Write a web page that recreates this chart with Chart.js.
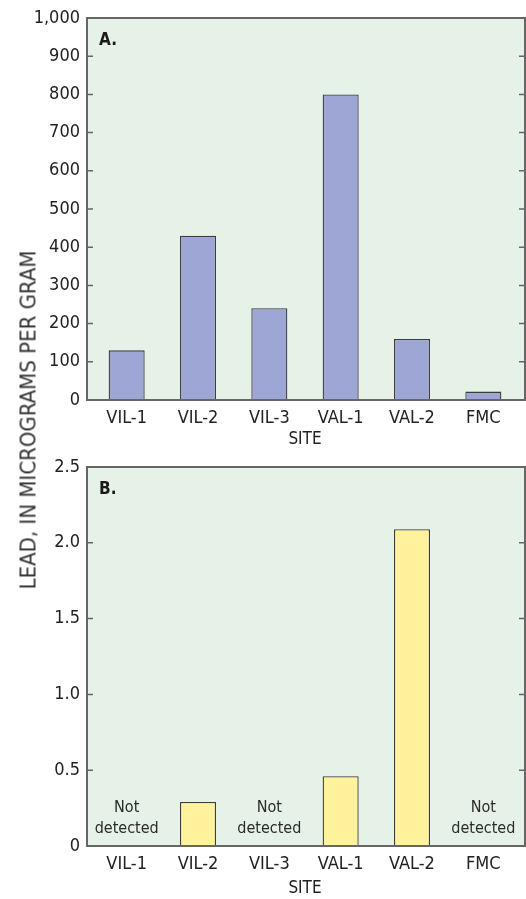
<!DOCTYPE html>
<html>
<head>
<meta charset="utf-8">
<script src="https://cdn.jsdelivr.net/npm/chart.js@4.4.1/dist/chart.umd.min.js"></script>
<style>
    html, body { margin: 0; padding: 0; background: #fff; }
    #wrap { position: relative; width: 526px; height: 899px; overflow: hidden; }
    #chartA { position: absolute; left: 0; top: 0; }
    #chartB { position: absolute; left: 0; top: 450px; }
    #yTitle {
        position: absolute; left: 28px; top: 420px;
        transform: translate(-50%, -50%) rotate(-90deg);
        white-space: nowrap;
        font-family: 'Liberation Sans Narrow', 'DejaVu Sans Condensed', sans-serif;
        font-size: 22px; color: #333;
    }
</style>
</head>
<body>
<div id="wrap">
    <canvas id="chartA" width="526" height="450"></canvas>
    <canvas id="chartB" width="526" height="449"></canvas>
    <div id="yTitle">LEAD, IN MICROGRAMS PER GRAM</div>
</div>
<script>
// ==================== Data ====================
const sites = ['VIL-1', 'VIL-2', 'VIL-3', 'VAL-1', 'VAL-2', 'FMC'];
const leadSediment = [130, 430, 240, 800, 160, 22];      // panel A
const leadWater = [null, 0.29, null, 0.46, 2.09, null];  // panel B, null = not detected
const notDetectedText = ['Not', 'detected'];

const FONT = "'Liberation Sans Narrow', 'DejaVu Sans Condensed', sans-serif";
const PLOT_BG = '#e6f1e7';
const FRAME = '#666666';
// frame sits a little outside the category area
const FRAME_LEFT = 4;
const FRAME_RIGHT = 6;

// ==================== Plugins ====================
// plot background, frame and inward tick marks on both sides
const framePlugin = {
    id: 'frame',
    beforeDatasetsDraw(chart) {
        const { ctx, chartArea: a } = chart;
        ctx.save();
        ctx.fillStyle = PLOT_BG;
        ctx.fillRect(a.left - FRAME_LEFT, a.top, a.right - a.left + FRAME_LEFT + FRAME_RIGHT, a.bottom - a.top);
        ctx.restore();
    },
    afterDatasetsDraw(chart) {
        const { ctx, chartArea: a } = chart;
        const y = chart.scales.y;
        const l = a.left - FRAME_LEFT;
        const r = a.right + FRAME_RIGHT;
        ctx.save();
        ctx.strokeStyle = FRAME;
        ctx.lineWidth = 1.5;
        y.ticks.forEach(t => {
            const py = y.getPixelForValue(t.value);
            if (py <= a.top + 1 || py >= a.bottom - 1) return;
            ctx.beginPath();
            ctx.moveTo(l, py);
            ctx.lineTo(l + 6, py);
            ctx.moveTo(r, py);
            ctx.lineTo(r - 6, py);
            ctx.stroke();
        });
        ctx.lineWidth = 2;
        ctx.strokeRect(l, a.top, r - l, a.bottom - a.top);
        // panel letter
        ctx.fillStyle = '#1a1a1a';
        ctx.font = 'bold 17px ' + FONT;
        ctx.textBaseline = 'middle';
        ctx.fillText(chart.options.plugins.frame.letter, l + 12, a.top + 23);
        ctx.restore();
    }
};

// "Not detected" labels for missing values
const notDetectedPlugin = {
    id: 'notDetected',
    afterDatasetsDraw(chart) {
        if (!chart.options.plugins.notDetected.show) return;
        const { ctx } = chart;
        const x = chart.scales.x;
        const y = chart.scales.y;
        const values = chart.data.datasets[0].data;
        ctx.save();
        ctx.fillStyle = '#2a2a2a';
        ctx.font = '16px ' + FONT;
        ctx.textAlign = 'center';
        ctx.textBaseline = 'middle';
        values.forEach((v, i) => {
            if (v !== null) return;
            const px = x.getPixelForValue(i);
            ctx.fillText(notDetectedText[0], px, y.getPixelForValue(0) - 38);
            ctx.fillText(notDetectedText[1], px, y.getPixelForValue(0) - 17);
        });
        ctx.restore();
    }
};

// ==================== Chart Factory ====================
function makeChart(id, values, opts) {
    const ctx = document.getElementById(id).getContext('2d');
    return new Chart(ctx, {
        type: 'bar',
        data: {
            labels: sites,
            datasets: [{
                data: values,
                backgroundColor: opts.color,
                borderColor: '#3d3d3d',
                borderWidth: 1.3,
                borderSkipped: 'bottom',
                barPercentage: 0.505,
                categoryPercentage: 1.0
            }]
        },
        options: {
            responsive: false,
            animation: false,
            layout: { padding: { top: opts.top, right: 7, left: 0, bottom: 0 } },
            plugins: {
                legend: { display: false },
                tooltip: { enabled: false },
                frame: { letter: opts.letter },
                notDetected: { show: opts.notDetected }
            },
            scales: {
                x: {
                    grid: { display: false, drawTicks: false },
                    border: { display: false },
                    ticks: {
                        color: '#222',
                        font: { family: FONT, size: 18 },
                        padding: 8,
                        maxRotation: 0,
                        autoSkip: false
                    },
                    title: {
                        display: true,
                        text: 'SITE',
                        color: '#222',
                        font: { family: FONT, size: 17 },
                        padding: { top: 0, bottom: 0 }
                    },
                    afterFit(scale) { scale.height = opts.xHeight; }
                },
                y: {
                    min: 0,
                    max: opts.max,
                    grid: { display: false, drawTicks: false },
                    border: { display: false },
                    ticks: {
                        stepSize: opts.step,
                        color: '#222',
                        font: { family: FONT, size: 18 },
                        padding: 7 + FRAME_LEFT,
                        callback: opts.format
                    },
                    afterFit(scale) {
                        scale.width = 87 + FRAME_LEFT;
                        scale.paddingTop = 0;
                        scale.paddingBottom = 0;
                    }
                }
            }
        },
        plugins: [framePlugin, notDetectedPlugin]
    });
}

// ==================== Initialization ====================
makeChart('chartA', leadSediment, {
    color: '#9da6d4',
    top: 18,
    xHeight: 50,
    max: 1000,
    step: 100,
    letter: 'A.',
    notDetected: false,
    format: v => v.toLocaleString('en-US')
});

makeChart('chartB', leadWater, {
    color: '#fff29c',
    top: 17,
    xHeight: 53,
    max: 2.5,
    step: 0.5,
    letter: 'B.',
    notDetected: true,
    format: v => v === 0 ? '0' : v.toFixed(1)
});
</script>
</body>
</html>
